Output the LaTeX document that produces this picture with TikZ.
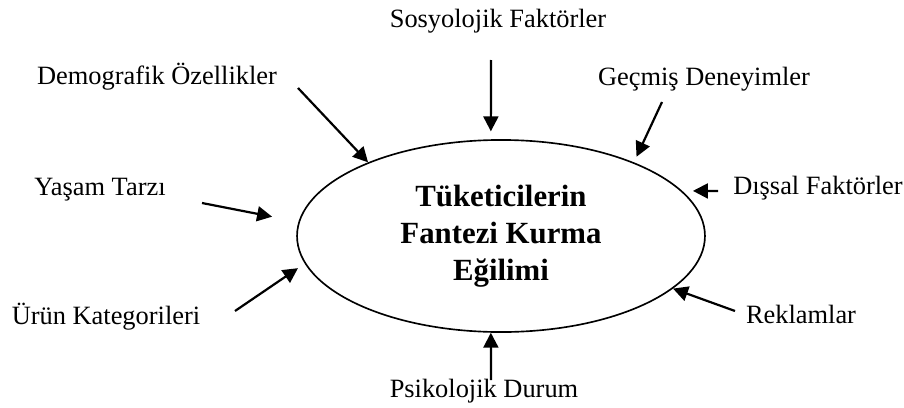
\documentclass[tikz,border=0pt]{standalone}
\usepackage{fontspec}
\setmainfont{Liberation Serif}
\usetikzlibrary{
    arrows.meta,
    shapes.geometric
}
\tikzstyle{factor} = [
    anchor=base,
    inner sep=0pt,
    font=\fontsize{12}{14.4}\selectfont
]
\tikzstyle{tendency} = [
    ellipse,
    draw=black,
    line width=0.75pt,
    minimum width=185.4pt,
    minimum height=87.3pt,
    inner sep=0pt,
    align=center,
    font=\fontsize{14}{16.8}\selectfont\bfseries
]
\tikzstyle{arrow} = [
    -{Triangle[length=6.8pt,width=6.8pt]},
    line width=1pt,
    draw=black
]

\begin{document}
\begin{tikzpicture}[x=0.4545pt, y=-0.4545pt]
        \useasboundingbox (0,0) rectangle (904,407);

        % Central tendency
        \node[tendency] (fantezi) at (501,236) {
            Tüketicilerin\\
            Fantezi Kurma\\
            Eğilimi
        };

        % Factors
        \node[factor] (sosyo) at (498,27.5) {Sosyolojik Faktörler};
        \node[factor] (demo) at (157,84) {Demografik Özellikler};
        \node[factor] (gecmis) at (704,85) {Geçmiş Deneyimler};
        \node[factor] (yasam) at (100,195) {Yaşam Tarzı};
        \node[factor] (dissal) at (818,194) {Dışsal Faktörler};
        \node[factor] (urun) at (106,324) {Ürün Kategorileri};
        \node[factor] (reklam) at (801,323) {Reklamlar};
        \node[factor] (psiko) at (484,397) {Psikolojik Durum};

        % Arrow tails
        \coordinate (sosyoT) at (491,60);
        \coordinate (demoT) at (298,88);
        \coordinate (gecmisT) at (662,102);
        \coordinate (yasamT) at (202,203);
        \coordinate (dissalT) at (718,191);
        \coordinate (urunT) at (235,311);
        \coordinate (reklamT) at (735,311);
        \coordinate (psikoT) at (491,380);

        % Arrows
        \draw[arrow, shorten >=3.6pt] (sosyoT) -- (fantezi.96);
        \draw[arrow] (demoT) -- (fantezi.151);
        \draw[arrow, shorten >=2.8pt] (gecmisT) -- (fantezi.29);
        \draw[arrow, shorten >=12.2pt] (yasamT) -- (fantezi.176);
        \draw[arrow, shorten >=4.9pt] (dissalT) -- (fantezi.14);
        \draw[arrow, shorten >=3.7pt] (urunT) -- (fantezi.188);
        \draw[arrow] (reklamT) -- (fantezi.343);
        \draw[arrow] (psikoT) -- (fantezi.264);
    \end{tikzpicture}
\end{document}
